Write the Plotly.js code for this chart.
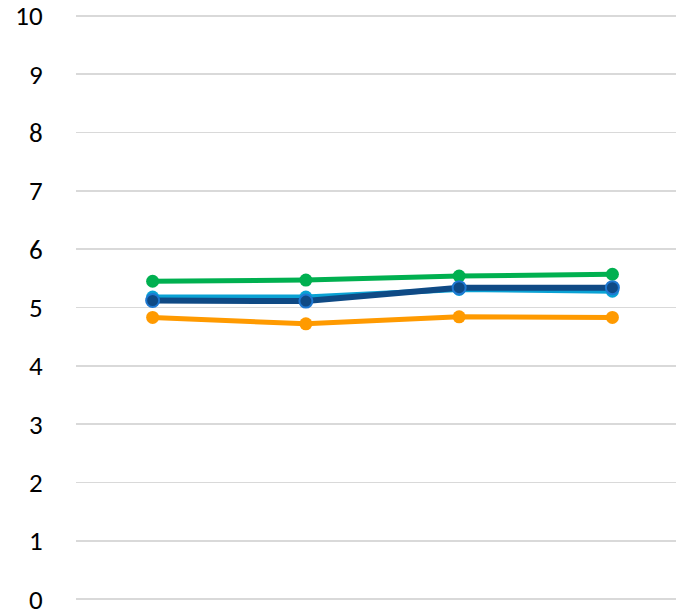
<!DOCTYPE html>
<html>
<head>
<meta charset="utf-8">
<script src="https://cdn.plot.ly/plotly-3.0.1.min.js"></script>
<style>html,body{margin:0;padding:0;background:#fff;}#chart{width:676px;height:613px;}</style>
</head>
<body>
<div id="chart"></div>
<script>
const categories = ["1", "2", "3", "4"];
const orangeValues = [4.83, 4.72, 4.84, 4.83];
const greenValues = [5.45, 5.47, 5.54, 5.57];
const lightBlueValues = [5.18, 5.18, 5.31, 5.28];
const darkBlueValues = [5.12, 5.11, 5.34, 5.34];
const yTickValues = [0, 1, 2, 3, 4, 5, 6, 7, 8, 9, 10];

const traces = [
  {x: categories, y: orangeValues, type: 'scatter', mode: 'lines+markers',
   line: {color: '#ff9a00', width: 5}, marker: {color: '#ff9a00', size: 13}},
  {x: categories, y: greenValues, type: 'scatter', mode: 'lines+markers',
   line: {color: '#00b050', width: 5}, marker: {color: '#00b050', size: 13}},
  {x: categories, y: lightBlueValues, type: 'scatter', mode: 'lines+markers',
   line: {color: '#0aa2d4', width: 5}, marker: {color: '#0aa2d4', size: 13}},
  {x: categories, y: darkBlueValues, type: 'scatter', mode: 'lines+markers',
   line: {color: '#0f4a85', width: 6}, marker: {color: '#0f4a85', size: 13, line: {color: '#1f78d1', width: 2}}}
];

const layout = {
  width: 676, height: 613,
  margin: {l: 76, r: 0, t: 13, b: 11, pad: 0},
  paper_bgcolor: '#fff', plot_bgcolor: '#fff',
  showlegend: false,
  font: {family: 'Carlito, Lato, sans-serif', size: 27, color: '#000'},
  xaxis: {type: 'category', range: [-0.5, 3.415], showticklabels: false, showgrid: false,
          zeroline: false, showline: false, ticks: ''},
  yaxis: {range: [-0.05, 10.05], tickvals: yTickValues, ticktext: yTickValues.map(String),
          showgrid: true, gridcolor: '#d9d9d9', gridwidth: 1.5,
          zeroline: false, automargin: false, ticklabeloverflow: 'allow',
          showline: false, ticks: 'outside', ticklen: 27, tickcolor: 'rgba(0,0,0,0)',
          tickfont: {family: 'Carlito, Lato, sans-serif', size: 27, color: '#000'}}
};

Plotly.newPlot('chart', traces, layout, {displayModeBar: false, staticPlot: true});
</script>
</body>
</html>
